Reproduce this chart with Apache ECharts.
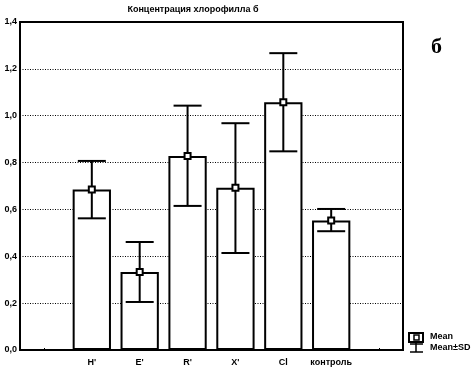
<!DOCTYPE html>
<html>
<head>
<meta charset="utf-8">
<script src="https://cdn.jsdelivr.net/npm/echarts@6/dist/echarts.min.js"></script>
<style>
  html, body { margin: 0; padding: 0; background: #fff; }
  #chart { width: 475px; height: 367px; }
</style>
</head>
<body>
<div id="chart"></div>
<script>
  // категории (пустые по краям, как в оригинале)
  const categories = ['', "H'", "E'", "R'", "X'", 'Cl', 'контроль', ''];
  const means = ['-', 0.685, 0.333, 0.828, 0.692, 1.057, 0.553, '-'];
  const sdLow = ['-', 0.562, 0.205, 0.615, 0.414, 0.848, 0.507, '-'];
  const sdHigh = ['-', 0.807, 0.461, 1.043, 0.968, 1.267, 0.602, '-'];

  const font = 'Liberation Sans';
  const chart = echarts.init(document.getElementById('chart'));

  const errData = [];
  categories.forEach((c, i) => {
    if (means[i] !== '-') errData.push([i, sdLow[i], sdHigh[i], means[i]]);
  });

  const option = {
    animation: false,
    backgroundColor: '#fff',
    title: {
      text: 'Концентрация хлорофилла б',
      left: 188, top: 0, textAlign: 'center',
      textStyle: { fontFamily: font, fontSize: 9, fontWeight: 'bold', color: '#000' }
    },
    grid: {
      left: 20, right: 72, top: 22, bottom: 17,
      show: true, borderColor: '#000', borderWidth: 2, backgroundColor: '#fff'
    },
    xAxis: {
      type: 'category',
      data: categories,
      axisLine: { show: false },
      axisTick: { show: true, alignWithLabel: true, inside: true, length: 2, lineStyle: { color: '#000' } },
      axisLabel: { fontFamily: font, fontSize: 9, fontWeight: 'bold', color: '#000', margin: 8, interval: 0 },
      splitLine: { show: false }
    },
    yAxis: {
      type: 'value',
      min: 0, max: 1.4, interval: 0.2,
      axisLine: { show: false },
      axisTick: { show: false },
      axisLabel: {
        fontFamily: font, fontSize: 9, fontWeight: 'bold', color: '#000', margin: 3,
        formatter: v => v.toFixed(1).replace('.', ',')
      },
      splitLine: { show: true, lineStyle: { color: '#000', type: [1, 1.5], width: 1 } }
    },
    series: [
      {
        type: 'bar',
        data: means,
        barWidth: '80%',
        itemStyle: { color: '#fff', borderColor: '#000', borderWidth: 2 },
        z: 3
      },
      {
        type: 'custom',
        data: errData,
        z: 5,
        renderItem: (params, api) => {
          const x = api.value(0);
          const lo = api.coord([x, api.value(1)]);
          const hi = api.coord([x, api.value(2)]);
          const mid = api.coord([x, api.value(3)]);
          const hw = 14;
          const st = { stroke: '#000', lineWidth: 2 };
          return {
            type: 'group',
            children: [
              { type: 'line', shape: { x1: lo[0], y1: lo[1], x2: hi[0], y2: hi[1] }, style: st },
              { type: 'line', shape: { x1: lo[0] - hw, y1: lo[1], x2: lo[0] + hw, y2: lo[1] }, style: st },
              { type: 'line', shape: { x1: hi[0] - hw, y1: hi[1], x2: hi[0] + hw, y2: hi[1] }, style: st },
              { type: 'rect', shape: { x: mid[0] - 3, y: mid[1] - 3, width: 6, height: 6 },
                style: { fill: '#fff', stroke: '#000', lineWidth: 2 } }
            ]
          };
        }
      }
    ],
    graphic: [
      { type: 'text', left: 431, top: 36,
        style: { text: 'б', fontFamily: 'Liberation Serif', fontSize: 22, fontWeight: 'bold', fill: '#000' } },
      // легенда
      { type: 'rect', shape: { x: 409, y: 333, width: 14, height: 9 },
        style: { fill: '#fff', stroke: '#000', lineWidth: 2 } },
      { type: 'rect', shape: { x: 414, y: 335, width: 5, height: 5 },
        style: { fill: '#fff', stroke: '#000', lineWidth: 1.5 } },
      { type: 'text', left: 430, top: 332,
        style: { text: 'Mean', fontFamily: font, fontSize: 9, fontWeight: 'bold', fill: '#000' } },
      { type: 'line', shape: { x1: 416, y1: 343, x2: 416, y2: 352 }, style: { stroke: '#000', lineWidth: 1.5 } },
      { type: 'line', shape: { x1: 410, y1: 344, x2: 423, y2: 344 }, style: { stroke: '#000', lineWidth: 1.5 } },
      { type: 'line', shape: { x1: 410, y1: 352, x2: 423, y2: 352 }, style: { stroke: '#000', lineWidth: 1.5 } },
      { type: 'text', left: 430, top: 343,
        style: { text: 'Mean±SD', fontFamily: font, fontSize: 9, fontWeight: 'bold', fill: '#000' } }
    ]
  };

  chart.setOption(option);
</script>
</body>
</html>
